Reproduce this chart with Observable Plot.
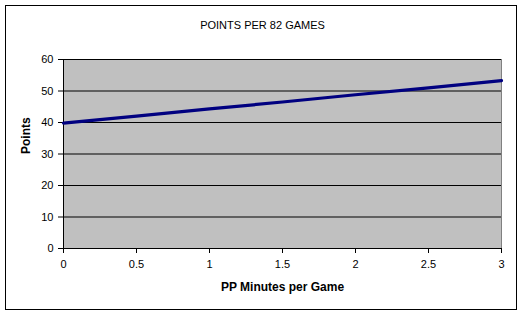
<!DOCTYPE html>
<html>
<head>
<meta charset="utf-8">
<script src="https://cdn.jsdelivr.net/npm/d3@7"></script>
<script src="https://cdn.jsdelivr.net/npm/@observablehq/plot@0.6"></script>
<style>
  html, body { margin: 0; padding: 0; background: #fff; }
  #wrap { position: relative; width: 526px; height: 315px; overflow: hidden; }
  #border { position: absolute; left: 5px; top: 5px; width: 510px; height: 303px; border: 1.5px solid #000; box-sizing: content-box; pointer-events: none; }
  #chart { position: absolute; left: 0; top: 0; }
  svg { font-family: "Liberation Sans", Arial, sans-serif; }
</style>
</head>
<body>
<div id="wrap"><div id="chart"></div><div id="border"></div></div>
<script>
const minutes = [0, 0.5, 1, 1.5, 2, 2.5, 3];
const points = [39.8, 42.0, 44.3, 46.5, 48.8, 51.0, 53.3];
const xTicks = [0, 0.5, 1, 1.5, 2, 2.5, 3];
const yTicks = [0, 10, 20, 30, 40, 50, 60];
const title = "POINTS PER 82 GAMES";
const xLabel = "PP Minutes per Game";
const yLabel = "Points";

const data = minutes.map((m, i) => ({m, p: points[i]}));

const chart = Plot.plot({
  width: 526,
  height: 315,
  marginLeft: 63,
  marginRight: 25,
  marginTop: 59,
  marginBottom: 67,
  style: {background: "transparent", fontFamily: "'Liberation Sans', Arial, sans-serif", fontSize: "11px", color: "#000"},
  x: {domain: [0, 3], label: null},
  y: {domain: [0, 60], label: null},
  marks: [
    Plot.frame({fill: "#c0c0c0", stroke: "#808080"}),
    Plot.gridY(yTicks, {stroke: "#000", strokeOpacity: 1, strokeWidth: 1}),
    Plot.ruleX([0], {stroke: "#000"}),
    Plot.ruleY([0], {stroke: "#000"}),
    Plot.axisX(xTicks, {tickSize: 5, tickPadding: 7, tickFormat: d => String(d), label: null, stroke: "#000", fill: "#000", fontSize: 11}),
    Plot.axisY(yTicks, {tickSize: 5, tickPadding: 5, label: null, stroke: "#000", fill: "#000", fontSize: 11}),
    Plot.line(data, {x: "m", y: "p", stroke: "#000080", strokeWidth: 3.2, curve: "linear"}),
    Plot.text([title], {frameAnchor: "top", dy: -38, dx: -20, fontSize: 11, fill: "#000", letterSpacing: "1.2px"}),
    Plot.text([xLabel], {frameAnchor: "bottom", dy: 42, fontSize: 12, fontWeight: "bold", fill: "#000"}),
    Plot.text([yLabel], {frameAnchor: "left", dx: -37, rotate: -90, fontSize: 12, fontWeight: "bold", fill: "#000"})
  ]
});
document.getElementById("chart").appendChild(chart);
</script>
</body>
</html>
